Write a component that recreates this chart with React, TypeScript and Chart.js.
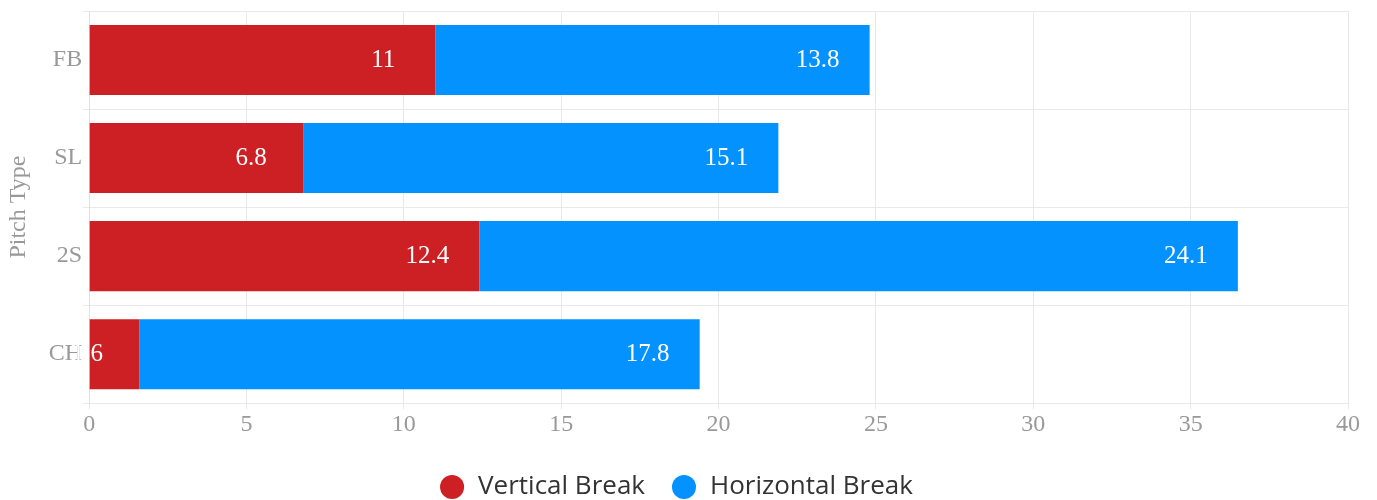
import React, { useEffect, useRef } from "react";
import { Chart, registerables } from "chart.js";

Chart.register(...registerables);

const categories = ["FB", "SL", "2S", "CH"];
const verticalBreak = [11, 6.8, 12.4, 1.6];
const horizontalBreak = [13.8, 15.1, 24.1, 17.8];
const seriesNames = ["Vertical Break", "Horizontal Break"];
const colors = ["#CD2024", "#0392FF"];

const labelPlugin = {
  id: "barLabels",
  afterDatasetsDraw(chart: any) {
    const ctx = chart.ctx;
    ctx.save();
    ctx.font = "25px 'Liberation Serif', serif";
    ctx.fillStyle = "#ffffff";
    ctx.textAlign = "center";
    ctx.textBaseline = "middle";
    chart.data.datasets.forEach((ds: any, di: number) => {
      const meta = chart.getDatasetMeta(di);
      meta.data.forEach((bar: any, i: number) => {
        ctx.fillText(String(ds.data[i]), bar.x - 52, bar.y);
      });
    });
    ctx.restore();
  },
};

export default function App() {
  const ref = useRef<HTMLCanvasElement>(null);
  useEffect(() => {
    document.body.style.margin = "0";
    const chart = new Chart(ref.current!, {
      type: "bar",
      data: {
        labels: categories,
        datasets: [
          { label: seriesNames[0], data: verticalBreak, backgroundColor: colors[0] },
          { label: seriesNames[1], data: horizontalBreak, backgroundColor: colors[1] },
        ],
      },
      options: {
        indexAxis: "y",
        animation: false,
        responsive: false,
        layout: { padding: { top: 11, right: 29, left: 4, bottom: -10 } },
        datasets: { bar: { barPercentage: 0.714, categoryPercentage: 1 } },
        scales: {
          x: {
            stacked: true,
            min: 0,
            max: 40,
            ticks: { stepSize: 5, color: "#999", font: { family: "'Liberation Serif', serif", size: 24 }, padding: 1 },
            grid: { color: "#e9e9e9", tickLength: 6 },
            border: { display: false },
            afterFit: (scale: any) => {
              scale.height += 8;
            },
          },
          y: {
            stacked: true,
            ticks: { color: "#999", font: { family: "'Liberation Serif', serif", size: 24, lineHeight: 0.8 }, padding: 1 },
            grid: { color: "#e9e9e9", tickLength: 6 },
            border: { color: "#e0e0e0" },
            title: {
              display: true,
              text: "Pitch Type",
              color: "#999",
              font: { family: "'Liberation Serif', serif", size: 24 },
              padding: { top: 0, bottom: 15 },
            },
          },
        },
        plugins: {
          legend: {
            position: "bottom",
            labels: {
              usePointStyle: true,
              pointStyle: "circle",
              boxHeight: 17,
              color: "#333",
              font: { family: "'Open Sans', sans-serif", size: 26 },
              padding: 26,
            },
          },
          tooltip: { enabled: false },
        },
      },
      plugins: [labelPlugin],
    });
    return () => chart.destroy();
  }, []);
  return (
    <div style={{ position: "absolute", left: 0, top: 0, width: 1377, height: 500 }}>
      <canvas ref={ref} width={1377} height={500} style={{ width: 1377, height: 500 }} />
    </div>
  );
}
